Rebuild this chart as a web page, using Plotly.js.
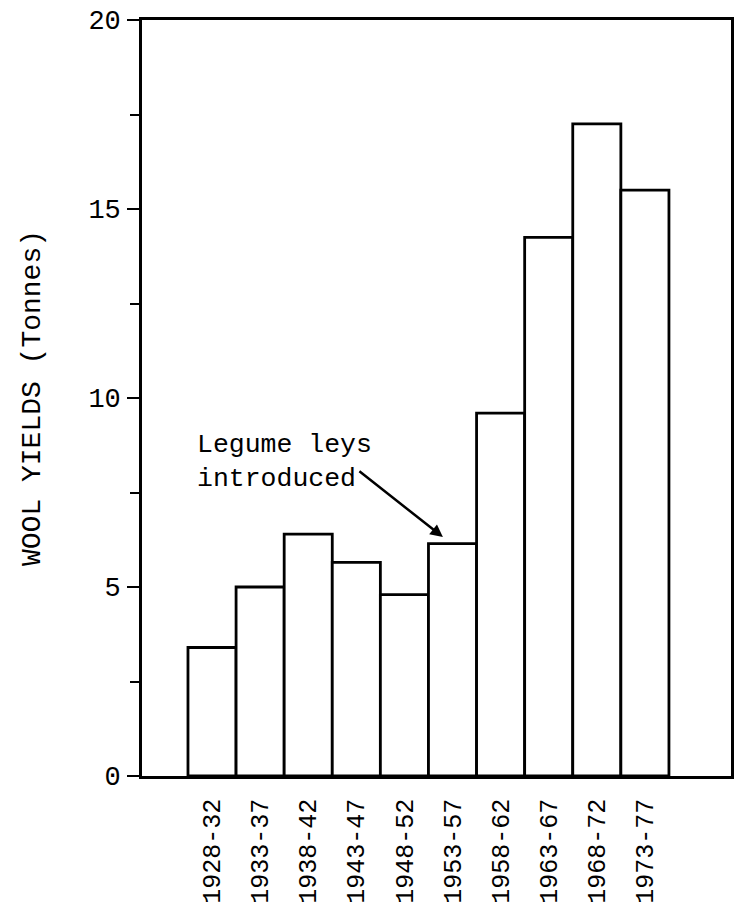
<!DOCTYPE html>
<html>
<head>
<meta charset="utf-8">
<script src="https://cdn.plot.ly/plotly-3.0.1.min.js"></script>
<style>html,body{margin:0;padding:0;background:#fff;}#chart{width:736px;height:912px;}</style>
</head>
<body>
<div id="chart"></div>
<script>
const periods = ["1928-32","1933-37","1938-42","1943-47","1948-52","1953-57","1958-62","1963-67","1968-72","1973-77"];
const woolYields = [3.4, 5.0, 6.4, 5.65, 4.8, 6.15, 9.6, 14.25, 17.25, 15.5];
const yTickVals = [0, 5, 10, 15, 20];
const yTickText = ["0", "5", "10", "15", "20"];
const yTitle = "WOOL YIELDS (Tonnes)";
const noteText = "Legume leys<br>introduced";

const FONT = "Liberation Mono, Courier New, monospace";

const trace = {
  type: "bar",
  x: periods,
  y: woolYields,
  marker: { color: "#ffffff", line: { color: "#000000", width: 2.8 } },
  hoverinfo: "skip"
};

const layout = {
  width: 736, height: 912,
  margin: { l: 142, r: 5, t: 20, b: 136 },
  paper_bgcolor: "#ffffff", plot_bgcolor: "#ffffff",
  showlegend: false,
  bargap: 0,
  font: { family: FONT, color: "#000000", size: 25 },
  xaxis: {
    type: "category",
    range: [-1.456, 10.79],
    showline: true, linecolor: "#000", linewidth: 2.8, mirror: true,
    ticks: "", showgrid: false, zeroline: false,
    tickangle: -90,
    ticklabelstandoff: 10,
    tickfont: { family: FONT, size: 25, color: "#000" }
  },
  yaxis: {
    range: [0, 20],
    showline: true, linecolor: "#000", linewidth: 2.8, mirror: true,
    showgrid: false, zeroline: false,
    tickmode: "array", tickvals: yTickVals, ticktext: yTickText,
    ticks: "outside", ticklen: 12, tickwidth: 2, tickcolor: "#000",
    ticklabelstandoff: 1,
    minor: { dtick: 2.5, tick0: 0, ticks: "outside", ticklen: 9, tickwidth: 2, tickcolor: "#000" },
    tickfont: { family: FONT, size: 27, color: "#000" },
    title: { text: yTitle, standoff: 40, font: { family: FONT, size: 28, color: "#000" } }
  },
  annotations: [
    {
      xref: "paper", yref: "paper", x: 0.09, y: 0.4153,
      xanchor: "left", yanchor: "middle", align: "left",
      text: noteText, showarrow: false,
      font: { family: FONT, size: 26.5, color: "#000" }
    },
    {
      xref: "x", yref: "y", x: 4.80, y: 6.32,
      text: "", showarrow: true,
      ax: -85, ay: -67,
      arrowhead: 2, arrowsize: 1, arrowwidth: 2.5, arrowcolor: "#000"
    }
  ]
};

Plotly.newPlot("chart", [trace], layout, { staticPlot: true, displayModeBar: false });
</script>
</body>
</html>
